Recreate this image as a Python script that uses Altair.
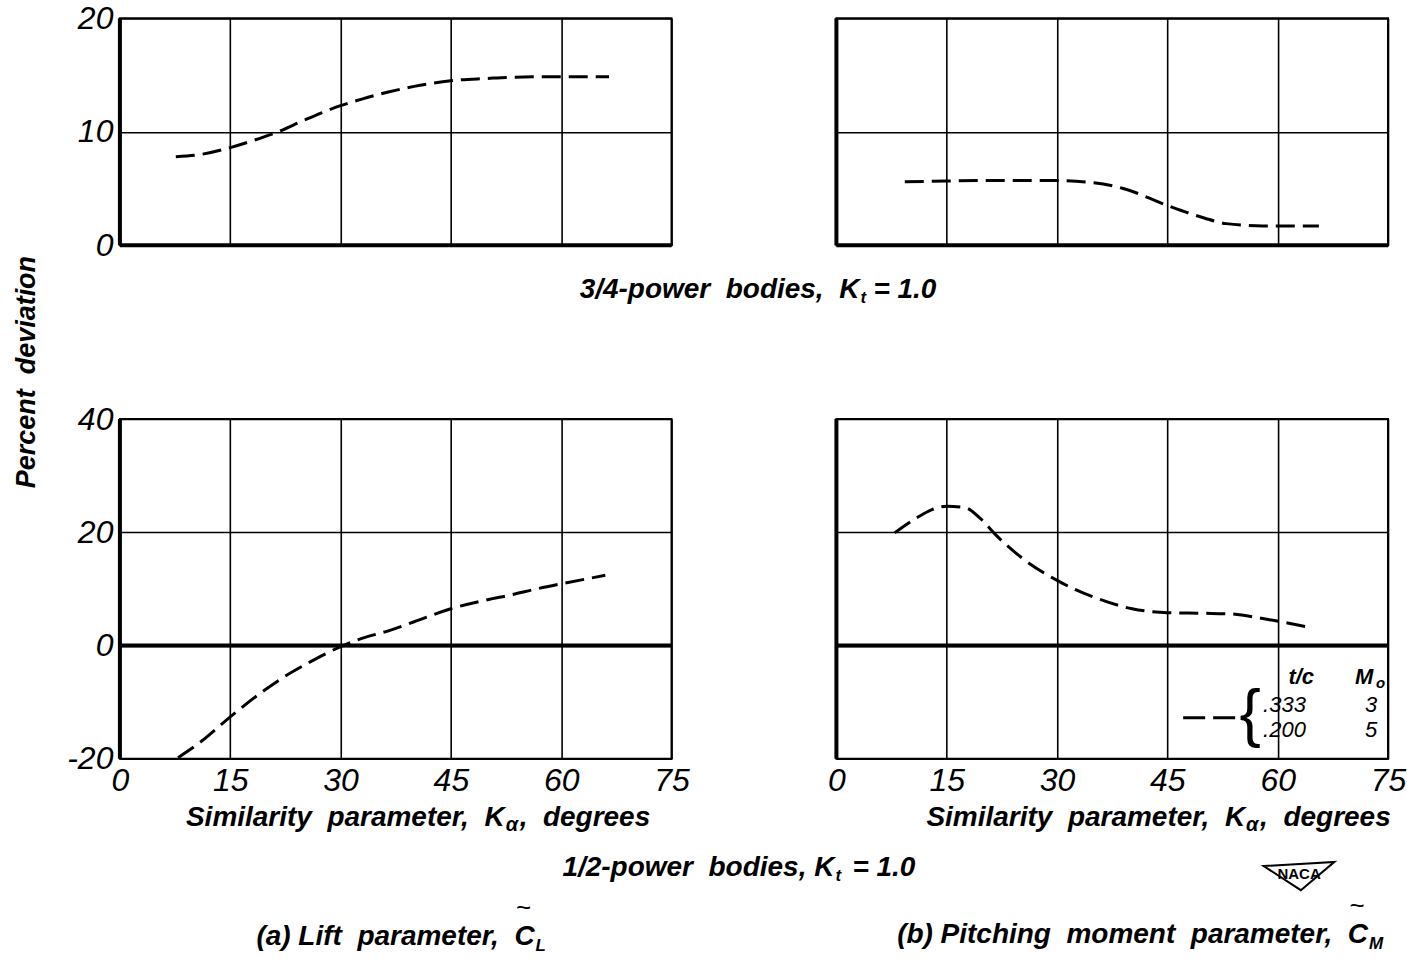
import altair as alt
import pandas as pd

# ---------------- data ----------------
tl_x = [7.6, 11, 15, 18, 21.5, 25, 30, 33, 36.5, 40, 45, 50, 53, 58, 62, 66.5]
tl_y = [7.8, 8.0, 8.6, 9.2, 10.0, 11.0, 12.3, 12.9, 13.5, 14.0, 14.5, 14.7, 14.8, 14.85, 14.85, 14.85]

tr_x = [9.3, 15, 20, 25, 30, 35, 39, 45, 50, 53, 58, 65.6]
tr_y = [5.6, 5.65, 5.7, 5.7, 5.7, 5.5, 5.0, 3.5, 2.4, 1.9, 1.7, 1.7]

bl_x = [7.9, 11, 15, 18.5, 22, 26, 30, 33, 36.5, 40, 45, 50, 53, 57, 60, 66]
bl_y = [-19.8, -17.0, -12.6, -9.0, -5.8, -2.8, -0.2, 1.3, 2.6, 4.2, 6.5, 8.1, 8.9, 10.1, 10.9, 12.4]

br_x = [7.9, 11.1, 13, 15, 17.4, 19.6, 21.7, 25.4, 30, 34.9, 40.2, 45, 50, 53.4, 58.7, 64.0]
br_y = [19.9, 22.7, 24.0, 24.6, 24.4, 22.4, 19.5, 15.3, 11.5, 8.6, 6.5, 5.8, 5.7, 5.6, 4.6, 3.3]

x_ticks = [0, 15, 30, 45, 60, 75]
top_y_ticks = [0, 10, 20]
bot_y_ticks = [-20, 0, 20, 40]

FONT = "Liberation Sans"
TICK_FONT = "'Liberation Sans Narrow', 'Liberation Sans'"
W = 552
H_TOP = 227
H_BOT = 340
S2 = " \u00a0"  # wide (double) word gap


def txt(label, x, y, size=28, align="left", angle=0, weight="bold", style="italic"):
    return alt.Chart(pd.DataFrame({"t": [label]})).mark_text(
        text=label, font=FONT, fontSize=size, fontStyle=style, fontWeight=weight,
        align=align, baseline="middle", angle=angle, color="black"
    ).encode(x=alt.value(x), y=alt.value(y))


def panel(xs, ys, ydom, yticks, h, show_x, show_y, extras):
    df = pd.DataFrame({"x": xs, "y": ys})
    xaxis = alt.Axis(values=x_ticks, labels=show_x, ticks=False, domain=False, title=None,
                     grid=True, gridColor="black", gridWidth=1.6, gridOpacity=1,
                     labelFont=TICK_FONT, labelFontStyle="italic", labelFontSize=32,
                     labelColor="black", labelPadding=7, labelFlush=False)
    yaxis = alt.Axis(values=yticks, labels=show_y, ticks=False, domain=False, title=None,
                     grid=True, gridColor="black", gridWidth=1.6, gridOpacity=1,
                     labelFont=TICK_FONT, labelFontStyle="italic", labelFontSize=32,
                     labelColor="black", labelPadding=7,
                     labelExpr="datum.value < 0 ? '-' + abs(datum.value) : datum.label")
    xs_ = alt.Scale(domain=[0, 75], nice=False, zero=False)
    ys_ = alt.Scale(domain=ydom, nice=False, zero=False)
    line = alt.Chart(df).mark_line(
        color="black", strokeWidth=3, strokeDash=[19, 8], interpolate="monotone"
    ).encode(
        x=alt.X("x:Q", scale=xs_, axis=xaxis),
        y=alt.Y("y:Q", scale=ys_, axis=yaxis),
    )
    zero = alt.Chart(pd.DataFrame({"y": [0]})).mark_rule(color="black", strokeWidth=4).encode(
        y=alt.Y("y:Q", scale=ys_, axis=yaxis))
    left = alt.Chart(pd.DataFrame({"x": [0]})).mark_rule(color="black", strokeWidth=4).encode(
        x=alt.X("x:Q", scale=xs_, axis=xaxis))
    return alt.layer(line, zero, left, *extras).properties(width=W, height=h)


def sim_title(k_end, rest_start):
    return [
        txt("Similarity" + S2 + "parameter," + S2 + "K", k_end, 399, align="right"),
        txt("α", k_end + 1, 406, size=20),
        txt("," + S2 + "degrees", rest_start, 399),
    ]


tl_extra = [
    txt("Percent" + S2 + "deviation", -93, 354, angle=270, align="center", size=27),
    txt("3/4-power" + S2 + "bodies," + S2 + "K", 740, 272, align="right"),
    txt("t", 741, 280, size=17),
    txt("= 1.0", 754, 272),
]

bl_extra = sim_title(385, 400) + [
    txt("1/2-power" + S2 + "bodies,  K", 715, 449, align="right"),
    txt("t", 716, 457, size=17),
    txt("= 1.0", 733, 449),
    txt("(a) Lift" + S2 + "parameter," + S2 + "C", 415, 518, align="right"),
    txt("L", 416, 527, size=17),
    txt("~", 404, 489, size=26, align="center", style="normal", weight="normal"),
]

legend_dash = alt.Chart(pd.DataFrame({"a": [0]})).mark_rule(
    color="black", strokeWidth=3, strokeDash=[22, 8]
).encode(x=alt.value(347), x2=alt.value(400), y=alt.value(299))

naca_wing = alt.Chart(pd.DataFrame({"a": [0]})).mark_point(
    shape="M -1 -0.3 L 1 -0.42 L 0.05 0.38 Z", filled=False, color="black",
    strokeWidth=2, size=5000, opacity=1
).encode(x=alt.value(463), y=alt.value(458))

br_extra = sim_title(409, 424) + [
    txt("(b) Pitching" + S2 + "moment" + S2 + "parameter," + S2 + "C", 532, 516, align="right"),
    txt("M", 533, 525, size=17),
    txt("~", 521, 487, size=26, align="center", style="normal", weight="normal"),
    txt("t/c", 478, 258, size=22, align="right"),
    txt("M", 519, 258, size=22),
    txt("o", 540, 264, size=15),
    legend_dash,
    txt("{", 414, 297, size=64, align="center", style="normal", weight="normal"),
    txt(".333", 427, 286, size=22, weight="normal"),
    txt("3", 535, 286, size=22, align="center", weight="normal"),
    txt(".200", 427, 311, size=22, weight="normal"),
    txt("5", 535, 311, size=22, align="center", weight="normal"),
    naca_wing,
    txt("NACA", 463, 455, size=15, align="center", style="normal", weight="bold"),
]

tl = panel(tl_x, tl_y, [0, 20], top_y_ticks, H_TOP, False, True, tl_extra)
tr = panel(tr_x, tr_y, [0, 20], top_y_ticks, H_TOP, False, False, [])
bl = panel(bl_x, bl_y, [-20, 40], bot_y_ticks, H_BOT, True, True, bl_extra)
br = panel(br_x, br_y, [-20, 40], bot_y_ticks, H_BOT, True, False, br_extra)

chart = alt.concat(
    tl, tr, bl, br, columns=2, spacing={"row": 174, "column": 165}, bounds="flush"
).properties(
    padding={"left": 12, "top": 1, "right": 0, "bottom": 0},
    background="white",
).configure_view(stroke="black", strokeWidth=2)

chart.save("out.html", embed_options={"renderer": "svg", "actions": False})
